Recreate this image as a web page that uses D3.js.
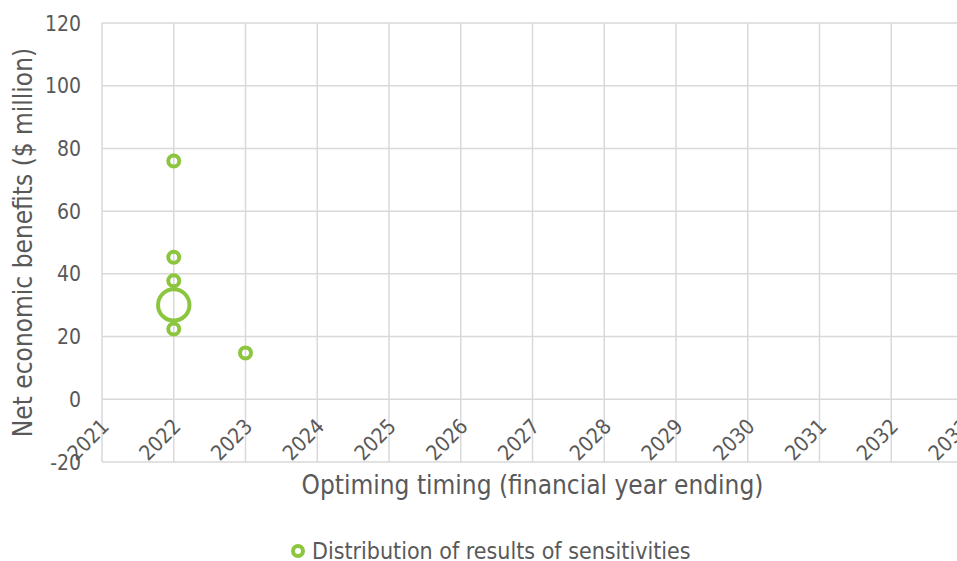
<!DOCTYPE html>
<html>
<head>
<meta charset="utf-8">
<script src="https://cdn.jsdelivr.net/npm/d3@7"></script>
<style>
  body { margin: 0; background: #fff; }
  svg text { font-family: "DejaVu Sans Condensed", "DejaVu Sans", sans-serif; fill: #595959; }
</style>
</head>
<body>
<div id="chart"></div>
<script>
// Year ticks along the x axis
const years = [2021, 2022, 2023, 2024, 2025, 2026, 2027, 2028, 2029, 2030, 2031, 2032, 2033];
const yTicks = [-20, 0, 20, 40, 60, 80, 100, 120];

// Sensitivity results (small markers)
const sensYears = [2022, 2022, 2022, 2022, 2023];
const sensValues = [76, 45.3, 37.8, 22.4, 14.8];

// Central case (large marker)
const centralYears = [2022];
const centralValues = [30.1];

const legendLabel = 'Distribution of results of sensitivities';
const green = '#8cc63f';

const imageWidth = 957;
const imageHeight = 561;
const margin = { top: 23, right: -6, bottom: 99, left: 102 };
const width = imageWidth - margin.left - margin.right;
const height = imageHeight - margin.top - margin.bottom;

const x = d3.scaleLinear().domain([2021, 2033]).range([0, width]);
const y = d3.scaleLinear().domain([-20, 120]).range([height, 0]);

const root = d3.select('#chart').append('svg')
  .attr('width', imageWidth)
  .attr('height', imageHeight);

const svg = root.append('g')
  .attr('transform', `translate(${margin.left},${margin.top})`);

// Horizontal gridlines
svg.append('g')
  .selectAll('line')
  .data(yTicks)
  .join('line')
  .attr('x1', 0)
  .attr('x2', width)
  .attr('y1', (d) => y(d))
  .attr('y2', (d) => y(d))
  .attr('stroke', '#d9d9d9')
  .attr('stroke-width', 1.5);

// Vertical gridlines
svg.append('g')
  .selectAll('line')
  .data(years)
  .join('line')
  .attr('x1', (d) => x(d))
  .attr('x2', (d) => x(d))
  .attr('y1', 0)
  .attr('y2', height)
  .attr('stroke', '#d9d9d9')
  .attr('stroke-width', 1.5);

// Y tick labels
svg.append('g')
  .selectAll('text')
  .data(yTicks)
  .join('text')
  .attr('x', -21)
  .attr('y', (d) => y(d))
  .attr('dy', '0.36em')
  .attr('text-anchor', 'end')
  .style('font-size', '21px')
  .text((d) => d);

// X tick labels, rotated, hanging off the zero line
svg.append('g')
  .selectAll('text')
  .data(years)
  .join('text')
  .attr('transform', (d) => `translate(${x(d) + 3},${y(0) + 23}) rotate(-45)`)
  .attr('text-anchor', 'end')
  .attr('dy', '0.36em')
  .style('font-size', '21px')
  .text((d) => d);

// Axis titles
svg.append('text')
  .attr('x', width / 2)
  .attr('y', height + 32)
  .attr('text-anchor', 'middle')
  .style('font-size', '26px')
  .text('Optiming timing (financial year ending)');

svg.append('text')
  .attr('transform', `translate(${23 - margin.left},${height / 2}) rotate(-90)`)
  .attr('text-anchor', 'middle')
  .attr('dy', '0.36em')
  .style('font-size', '26px')
  .text('Net economic benefits ($ million)');

// Markers
svg.append('g')
  .selectAll('circle')
  .data(sensValues)
  .join('circle')
  .attr('cx', (d, i) => x(sensYears[i]))
  .attr('cy', (d) => y(d))
  .attr('r', 5.5)
  .attr('fill', 'none')
  .attr('stroke', green)
  .attr('stroke-width', 4);

svg.append('g')
  .selectAll('circle')
  .data(centralValues)
  .join('circle')
  .attr('cx', (d, i) => x(centralYears[i]))
  .attr('cy', (d) => y(d))
  .attr('r', 15.7)
  .attr('fill', 'none')
  .attr('stroke', green)
  .attr('stroke-width', 4);

// Legend
const legend = root.append('g').attr('transform', 'translate(298,551)');
legend.append('circle')
  .attr('r', 5)
  .attr('fill', 'none')
  .attr('stroke', green)
  .attr('stroke-width', 4);
legend.append('text')
  .attr('x', 14)
  .attr('dy', '0.36em')
  .style('font-size', '23px')
  .text(legendLabel);
</script>
</body>
</html>
